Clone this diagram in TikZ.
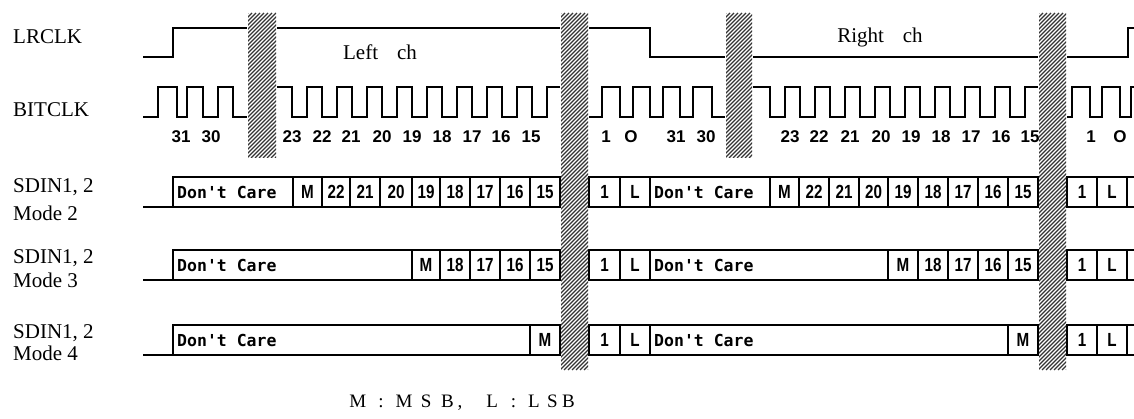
\documentclass[tikz,border=0pt]{standalone}
\usepackage{fontspec}
\setmainfont{Liberation Serif}
\setmonofont{DejaVu Sans Mono}
\newfontfamily\sansf{Liberation Sans}
\newfontfamily\condf[FakeStretch=0.8]{Liberation Sans}
\newcommand\hatchbar[4]{% x1 x2 y1 y2
  \fill[white] (#1,#3) rectangle (#2,#4);
  \begin{scope}
    \clip (#1,#3) rectangle (#2,#4);
    \foreach \k in {0,...,100}
      \draw[hatchln] ({#1-(#4-#3)+4*\k},#4) -- ++({#4-#3},{-(#4-#3)});
  \end{scope}}
\newcommand\datarow[4]{% prefix, T, B, list a/b/text
  \foreach \a/\b/\t [count=\i] in {#4} {
    \draw[wave] (\a,#2) rectangle (\b,#3);
    \node[bt] (#1\i) at ({(\a+\b)/2},{(#2+#3)/2}) {\t};}}
\newcommand\dcbox[5]{% name, a, b, T, B
  \draw[wave] (#2,#4) rectangle (#3,#5);
  \node[dc] (#1) at ({#2+4},{(#4+#5)/2}) {Don't Care};}
\newcommand\openbox[2]{% T, B
  \draw[wave] (1134,#1) -- (1127,#1) -- (1127,#2) -- (1134,#2);}
\begin{document}
\begin{tikzpicture}[x=1pt,y=-1pt,
  wave/.style={line width=1.9pt, line join=miter},
  sig/.style={font=\fontsize{21}{21}\selectfont, anchor=west, inner sep=0pt},
  num/.style={font=\sansf\bfseries\fontsize{17}{17}\selectfont, inner sep=0pt},
  bt/.style={font=\condf\bfseries\fontsize{19}{19}\selectfont, inner sep=0pt},
  dc/.style={font=\ttfamily\bfseries\fontsize{16.5}{16.5}\selectfont, anchor=west, inner sep=0pt},
  hatchln/.style={line width=1.2pt, black!80}]
\useasboundingbox (0,0) rectangle (1134,419);

% signal names
\node[sig] (lrclk) at (13,37) {LRCLK};
\node[sig] (bitclk) at (13,110) {BITCLK};
\node[sig] (s2) at (13,187) {SDIN1, 2};
\node[sig] (m2) at (13,213) {Mode 2};
\node[sig] (s3) at (13,258) {SDIN1, 2};
\node[sig] (m3) at (13,280) {Mode 3};
\node[sig] (s4) at (13,333) {SDIN1, 2};
\node[sig] (m4) at (13,353) {Mode 4};

% channel labels
\node[font=\fontsize{21}{21}\selectfont, inner sep=0pt] (leftch) at (380,52) {Left\hspace{0.9em}ch};
\node[font=\fontsize{21}{21}\selectfont, inner sep=0pt] (rightch) at (880,37) {Right\hspace{0.9em}ch};

% LRCLK
\draw[wave] (143,57) -- (173,57) -- (173,28) -- (247,28);
\draw[wave] (277,28) -- (560,28);
\draw[wave] (589,28) -- (650,28) -- (650,57) -- (725,57);
\draw[wave] (753,57) -- (1038,57);
\draw[wave] (1067,57) -- (1128,57) -- (1128,28) -- (1134,28);

% BITCLK
\draw[wave] (143,117) -- (158,117) -- (158,87) -- (177,87) -- (177,117) -- (187,117) -- (187,87)
  -- (203,87) -- (203,117) -- (218,117) -- (218,87) -- (233,87) -- (233,117) -- (247,117);
\draw[wave] (277,87) -- (292,87) -- (292,117)
  \foreach \k in {0,...,7}{ -- ({307+30*\k},117) -- ({307+30*\k},87) -- ({322+30*\k},87) -- ({322+30*\k},117)}
  -- (547,117) -- (547,87) -- (560,87);
\draw[wave] (589,117) -- (602,117) -- (602,87) -- (620,87) -- (620,117) -- (633,117) -- (633,87)
  -- (650,87) -- (650,117) -- (663,117) -- (663,87) -- (680,87) -- (680,117) -- (693,117)
  -- (693,87) -- (712,87) -- (712,117) -- (725,117);
\draw[wave] (753,87) -- (770,87) -- (770,117)
  \foreach \k in {0,...,7}{ -- ({785+30*\k},117) -- ({785+30*\k},87) -- ({800+30*\k},87) -- ({800+30*\k},117)}
  -- (1025,117) -- (1025,87) -- (1038,87);
\draw[wave] (1067,117) -- (1072,117) -- (1072,87) -- (1090,87) -- (1090,117) -- (1102,117)
  -- (1102,87) -- (1120,87) -- (1120,117) -- (1131,117) -- (1131,87) -- (1134,87);

% bit numbers
\foreach \t/\x [count=\i] in {31/181, 30/211, 23/292, 22/322, 21/351, 20/382, 19/412, 18/442,
  17/472, 16/501, 15/531, 1/606, O/631, 31/676, 30/706, 23/790, 22/819, 21/850, 20/881,
  19/911, 18/941, 17/971, 16/1001, 15/1030, 1/1091, O/1120}
  \node[num] (n\i) at (\x,137) {\t};

% Mode 2
\draw[wave] (143,207) -- (173,207) -- (173,177);
\dcbox{m2dcA}{173}{293}{177}{207}
\datarow{m2a}{177}{207}{293/322/M, 322/350/22, 350/380/21, 380/412/20, 412/440/19, 440/470/18, 470/500/17, 500/530/16, 530/560/15}
\datarow{m2b}{177}{207}{589/620/1, 620/650/L}
\dcbox{m2dcB}{650}{770}{177}{207}
\datarow{m2c}{177}{207}{770/799/M, 799/829/22, 829/859/21, 859/888/20, 888/918/19, 918/948/18, 948/978/17, 978/1008/16, 1008/1038/15}
\datarow{m2d}{177}{207}{1067/1097/1, 1097/1127/L}
\openbox{177}{207}

% Mode 3
\draw[wave] (143,280) -- (173,280) -- (173,250);
\dcbox{m3dcA}{173}{412}{250}{280}
\datarow{m3a}{250}{280}{412/440/M, 440/470/18, 470/500/17, 500/530/16, 530/560/15}
\datarow{m3b}{250}{280}{589/620/1, 620/650/L}
\dcbox{m3dcB}{650}{888}{250}{280}
\datarow{m3c}{250}{280}{888/918/M, 918/948/18, 948/978/17, 978/1008/16, 1008/1038/15}
\datarow{m3d}{250}{280}{1067/1097/1, 1097/1127/L}
\openbox{250}{280}

% Mode 4
\draw[wave] (143,355) -- (173,355) -- (173,325);
\dcbox{m4dcA}{173}{530}{325}{355}
\datarow{m4a}{325}{355}{530/560/M}
\datarow{m4b}{325}{355}{589/620/1, 620/650/L}
\dcbox{m4dcB}{650}{1008}{325}{355}
\datarow{m4c}{325}{355}{1008/1038/M}
\datarow{m4d}{325}{355}{1067/1097/1, 1097/1127/L}
\openbox{325}{355}

% hatched gaps
\hatchbar{248}{276}{13}{158}
\hatchbar{561}{588}{13}{370}
\hatchbar{726}{752}{13}{158}
\hatchbar{1039}{1066}{13}{370}

% legend
\node[anchor=west, inner sep=0pt, font=\fontsize{19}{19}\selectfont] (legend) at (346,403)
  {\makebox[23pt]{M}\makebox[23.5pt]{:}\makebox[22.5pt]{M}\makebox[22pt]{S}\makebox[20.5pt]{B}%
   \makebox[23.5pt][l]{,}\makebox[22pt]{L}\makebox[20.5pt]{:}\makebox[20.5pt]{L}\makebox[16.5pt]{S}\makebox[15.5pt]{B}};
\end{tikzpicture}
\end{document}
